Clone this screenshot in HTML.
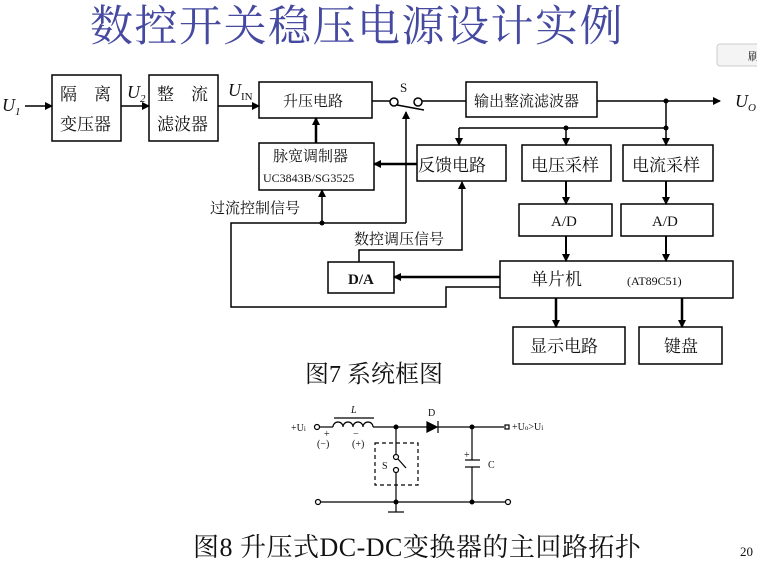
<!DOCTYPE html>
<html><head><meta charset="utf-8"><style>
body{margin:0;width:757px;height:564px;background:#fff;overflow:hidden}
svg{display:block}
text{font-family:"Liberation Serif","Noto Serif CJK SC",serif;fill:#111}
</style></head><body>
<svg width="757" height="564" viewBox="0 0 757 564" xmlns="http://www.w3.org/2000/svg">
<defs><marker id="a" markerWidth="8" markerHeight="8" refX="7" refY="4" orient="auto" markerUnits="userSpaceOnUse"><path d="M0,0L8,4L0,8z" fill="#000"/></marker></defs>
<text x="90" y="41" font-size="43" letter-spacing="1.5" style="fill:#4549a0" font-family="Noto Serif CJK SC,serif">数控开关稳压电源设计实例</text>
<rect x="717" y="44" width="44" height="22" rx="3" fill="#f4f4f4" stroke="#ccc"/>
<text x="748" y="60" font-size="11">刷</text>
<g stroke="#000" fill="none" stroke-width="1.5">
<rect x="52" y="75" width="69" height="66"/>
<rect x="149" y="75" width="69" height="66"/>
<rect x="259" y="82" width="113" height="36"/>
<rect x="259" y="143" width="115" height="47"/>
<rect x="466" y="82" width="131" height="35"/>
<rect x="417" y="145" width="89" height="36"/>
<rect x="522" y="145" width="89" height="36"/>
<rect x="623" y="145" width="90" height="36"/>
<rect x="519" y="204" width="93" height="32"/>
<rect x="621" y="204" width="92" height="32"/>
<rect x="500" y="261" width="233" height="37"/>
<rect x="328" y="262" width="66" height="31"/>
<rect x="513" y="327" width="112" height="37"/>
<rect x="639" y="327" width="83" height="37"/>
<g marker-end="url(#a)">
<line x1="25" y1="106" x2="52" y2="106"/>
<line x1="121" y1="106" x2="149" y2="106"/>
<line x1="218" y1="106" x2="259" y2="106"/>
<line x1="597" y1="101" x2="720" y2="101"/>
<line x1="316" y1="143" x2="316" y2="118" stroke-width="2.5"/>
<line x1="417" y1="164" x2="374" y2="164" stroke-width="2.5"/>
<line x1="322" y1="223" x2="322" y2="190"/>
<line x1="406" y1="223" x2="406" y2="112"/>
<polyline points="359,262 359,250 462,250 462,182"/>
<line x1="459" y1="128" x2="459" y2="145"/>
<line x1="566" y1="128" x2="566" y2="145"/>
<line x1="666" y1="128" x2="666" y2="145"/>
<line x1="566" y1="181" x2="566" y2="204" stroke-width="2"/>
<line x1="666" y1="181" x2="666" y2="204" stroke-width="2"/>
<line x1="566" y1="236" x2="566" y2="261" stroke-width="2"/>
<line x1="666" y1="236" x2="666" y2="261" stroke-width="2"/>
<line x1="500" y1="277" x2="394" y2="277" stroke-width="2.5"/>
<line x1="556" y1="298" x2="556" y2="327" stroke-width="2.5"/>
<line x1="682" y1="298" x2="682" y2="327" stroke-width="2.5"/>
</g>
<line x1="372" y1="101" x2="390" y2="101"/>
<circle cx="394" cy="102" r="4"/><circle cx="418" cy="102" r="4"/>
<line x1="397" y1="105" x2="424" y2="110"/>
<line x1="422" y1="101" x2="466" y2="101"/>
<line x1="666" y1="101" x2="666" y2="128"/>
<line x1="459" y1="128" x2="666" y2="128"/>
<polyline points="406,223 231,223 231,307 446,307 446,287 500,287"/>
</g>
<g fill="#000"><circle cx="666" cy="101" r="2.5"/><circle cx="566" cy="128" r="2.5"/><circle cx="666" cy="128" r="2.5"/><circle cx="322" cy="223" r="2.5"/></g>
<g font-size="17">
<text x="60" y="100">隔　离</text><text x="60" y="130">变压器</text>
<text x="157" y="100">整　流</text><text x="157" y="130">滤波器</text>
<text x="418" y="171">反馈电路</text><text x="531" y="171">电压采样</text><text x="632" y="171">电流采样</text>
<text x="530" y="352">显示电路</text><text x="664" y="352">键盘</text>
<text x="531" y="285">单片机</text>
</g>
<g font-size="15">
<text x="283" y="106">升压电路</text>
<text x="273" y="161">脉宽调制器</text>
<text x="474" y="106">输出整流滤波器</text>
<text x="210" y="213">过流控制信号</text>
<text x="354" y="244">数控调压信号</text>
<text x="348" y="284" font-weight="bold">D/A</text>
<text x="551" y="226">A/D</text><text x="652" y="226">A/D</text>
</g>
<text x="263" y="182" font-size="12">UC3843B/SG3525</text>
<text x="627" y="285" font-size="12">(AT89C51)</text>
<g font-style="italic" font-size="18">
<text x="2" y="111">U<tspan font-size="11" dy="4">1</tspan></text>
<text x="127" y="98">U<tspan font-size="11" dy="4">2</tspan></text>
<text x="228" y="96">U<tspan font-size="11" dy="4" font-style="normal">IN</tspan></text>
<text x="735" y="107">U<tspan font-size="11" dy="4">O</tspan></text>
</g>
<text x="400" y="92" font-size="13">S</text>
<text x="305" y="382" font-size="24">图7  系统框图</text>
<g stroke="#000" fill="none" stroke-width="1.2">
<circle cx="317" cy="427" r="2.5"/>
<line x1="320" y1="427" x2="333" y2="427"/>
<path d="M333,427 a5,5 0 0 1 10,0 a5,5 0 0 1 10,0 a5,5 0 0 1 10,0 a5,5 0 0 1 10,0"/>
<line x1="334" y1="418" x2="374" y2="418"/>
<line x1="373" y1="427" x2="427" y2="427"/>
<path d="M427,422 L437,427 L427,432z" fill="#000"/><line x1="438" y1="421" x2="438" y2="433"/>
<line x1="438" y1="427" x2="504" y2="427"/>
<rect x="505" y="425" width="4" height="4"/>
<line x1="396" y1="427" x2="396" y2="454"/>
<circle cx="396" cy="457" r="2.5"/><circle cx="396" cy="470" r="2.5"/>
<line x1="398" y1="459" x2="406" y2="468"/>
<line x1="396" y1="473" x2="396" y2="512"/>
<line x1="388" y1="512" x2="404" y2="512"/>
<rect x="375" y="443" width="43" height="42" stroke-dasharray="4,3"/>
<line x1="472" y1="427" x2="472" y2="460"/>
<line x1="465" y1="460" x2="480" y2="460"/><line x1="465" y1="467" x2="480" y2="467"/>
<line x1="472" y1="467" x2="472" y2="502"/>
<circle cx="318" cy="502" r="2.5"/>
<line x1="321" y1="502" x2="505" y2="502"/>
<circle cx="508" cy="502" r="2.5"/>
</g>
<g fill="#000"><circle cx="396" cy="427" r="2.5"/><circle cx="472" cy="427" r="2.5"/><circle cx="396" cy="502" r="2.5"/><circle cx="472" cy="502" r="2.5"/></g>
<g font-size="10">
<text x="291" y="431">+U<tspan font-size="7">i</tspan></text>
<text x="351" y="413" font-style="italic">L</text>
<text x="428" y="416">D</text>
<text x="512" y="430">+U<tspan font-size="7">o</tspan>&gt;U<tspan font-size="7">i</tspan></text>
<text x="324" y="437">+</text><text x="317" y="447">(−)</text>
<text x="353" y="437">−</text><text x="352" y="447">(+)</text>
<text x="382" y="469">S</text>
<text x="464" y="458">+</text><text x="488" y="468">C</text>
</g>
<text x="193" y="556" font-size="26" letter-spacing="0.5">图8  升压式DC-DC变换器的主回路拓扑</text>
<text x="740" y="556" font-size="13">20</text>
</svg>
</body></html>
